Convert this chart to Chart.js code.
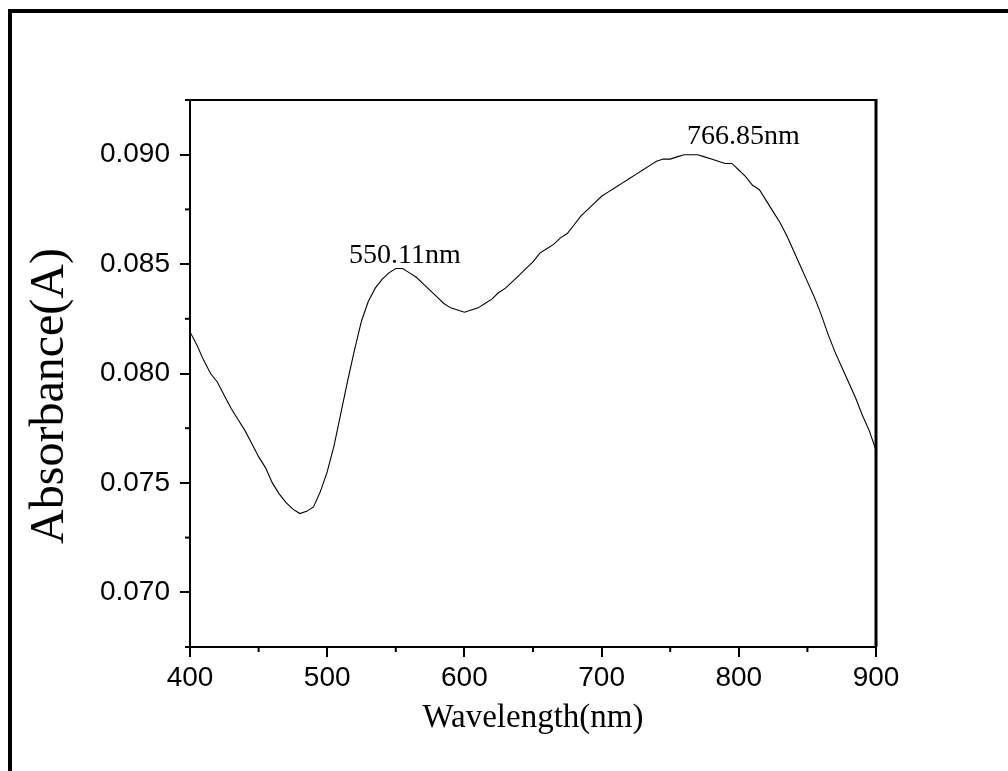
<!DOCTYPE html>
<html>
<head>
<meta charset="utf-8">
<script src="https://cdn.jsdelivr.net/npm/chart.js@4.4.0/dist/chart.umd.min.js"></script>
<style>
  html, body { margin: 0; padding: 0; background: #fff; }
  #wrap { position: relative; width: 1008px; height: 771px; overflow: hidden; }
  #frame {
    position: absolute; left: 8px; top: 9px; width: 1100px; height: 900px;
    border-left: 4px solid #000; border-top: 4px solid #000;
    pointer-events: none;
  }
  canvas { position: absolute; left: 0; top: 0; }
</style>
</head>
<body>
<div id="wrap">
  <canvas id="spectrum" width="1008" height="771"></canvas>
  <div id="frame"></div>
</div>
<script>
/* ---- spectrum data (5 nm steps) ---- */
const wavelength = [];
for (let w = 400; w <= 900; w += 5) wavelength.push(w);

const absorbance = [
  0.0819, 0.0813, 0.0806, 0.0800, 0.0796, 0.0790, 0.0784, 0.0779, 0.0774, 0.0768,
  0.0762, 0.0757, 0.0750, 0.0745, 0.0741, 0.0738, 0.0736, 0.0737, 0.0739, 0.0746,
  0.0755, 0.0767, 0.0782, 0.0797, 0.0811, 0.0824, 0.0833, 0.0839, 0.0843, 0.0846,
  0.0848, 0.0848, 0.0846, 0.0844, 0.0841, 0.0838, 0.0835, 0.0832, 0.0830, 0.0829,
  0.0828, 0.0829, 0.0830, 0.0832, 0.0834, 0.0837, 0.0839, 0.0842, 0.0845, 0.0848,
  0.0851, 0.0855, 0.0857, 0.0859, 0.0862, 0.0864, 0.0868, 0.0872, 0.0875, 0.0878,
  0.0881, 0.0883, 0.0885, 0.0887, 0.0889, 0.0891, 0.0893, 0.0895, 0.0897, 0.0898,
  0.0898, 0.0899, 0.0900, 0.0900, 0.0900, 0.0899, 0.0898, 0.0897, 0.0896, 0.0896,
  0.0893, 0.0890, 0.0886, 0.0884, 0.0879, 0.0874, 0.0869, 0.0863, 0.0856, 0.0849,
  0.0842, 0.0835, 0.0827, 0.0818, 0.0810, 0.0803, 0.0796, 0.0789, 0.0781, 0.0774,
  0.0765
];

// axis ticks
const xTicks = [400, 500, 600, 700, 800, 900];
const xMinorTicks = [450, 550, 650, 750, 850];
const yTicks = [0.070, 0.075, 0.080, 0.085, 0.090];
const yMinorTicks = [0.0675, 0.0725, 0.0775, 0.0825, 0.0875, 0.0925];

// peak labels
const peakNames = ["550.11nm", "766.85nm"];
const peakX = [550.11, 766.85];
const peakY = [0.0848, 0.0900];

const SANS = "'Liberation Sans', Arial, sans-serif";
const SERIF = "'Liberation Serif', 'Times New Roman', serif";

/* ---- extra drawing: frame, minor ticks, y title, peak labels ---- */
const extras = {
  id: "extras",
  afterDraw(chart) {
    const { ctx, chartArea: a } = chart;
    const xs = chart.scales.x, ys = chart.scales.y;
    ctx.save();
    ctx.strokeStyle = "#000";

    // top and right edges of the plot box
    ctx.lineWidth = 2;
    ctx.beginPath();
    ctx.moveTo(a.left, a.top);
    ctx.lineTo(a.right, a.top);
    ctx.stroke();
    ctx.lineWidth = 3;
    ctx.beginPath();
    ctx.moveTo(a.right, a.top - 1);
    ctx.lineTo(a.right, a.bottom);
    ctx.stroke();

    // minor ticks
    ctx.lineWidth = 2;
    xMinorTicks.forEach((v) => {
      const px = xs.getPixelForValue(v);
      ctx.beginPath();
      ctx.moveTo(px, a.bottom);
      ctx.lineTo(px, a.bottom + 5);
      ctx.stroke();
    });
    yMinorTicks.forEach((v) => {
      const py = ys.getPixelForValue(v);
      ctx.beginPath();
      ctx.moveTo(a.left - 5, py);
      ctx.lineTo(a.left, py);
      ctx.stroke();
    });

    // y axis title
    ctx.fillStyle = "#000";
    ctx.font = "48px " + SERIF;
    ctx.textAlign = "center";
    ctx.textBaseline = "middle";
    ctx.translate(50, 396);
    ctx.rotate(-Math.PI / 2);
    ctx.fillText("Absorbance(A)", 0, 0);
    ctx.restore();

    // peak labels
    ctx.save();
    ctx.fillStyle = "#000";
    ctx.font = "28px " + SERIF;
    ctx.textAlign = "center";
    ctx.textBaseline = "alphabetic";
    const offs = [[9, -5], [50, -11]];
    peakNames.forEach((t, i) => {
      const px = xs.getPixelForValue(peakX[i]) + offs[i][0];
      const py = ys.getPixelForValue(peakY[i]) + offs[i][1];
      ctx.fillText(t, px, py);
    });
    ctx.restore();
  },
};

new Chart(document.getElementById("spectrum"), {
  type: "line",
  data: {
    datasets: [
      {
        data: wavelength.map((w, i) => ({ x: w, y: absorbance[i] })),
        borderColor: "#000",
        borderWidth: 1.1,
        pointRadius: 0,
        tension: 0,
        fill: false,
      },
    ],
  },
  options: {
    responsive: false,
    animation: false,
    layout: { padding: { top: 100, right: 132, left: 0, bottom: 0 } },
    plugins: { legend: { display: false }, tooltip: { enabled: false } },
    scales: {
      x: {
        type: "linear",
        min: 400,
        max: 900,
        afterBuildTicks: (s) => { s.ticks = xTicks.map((v) => ({ value: v })); },
        afterFit: (s) => { s.height = 124; },
        ticks: {
          color: "#000",
          font: { family: SANS, size: 28 },
          padding: 4,
          maxRotation: 0,
          callback: (v) => String(v),
        },
        grid: { drawOnChartArea: false, tickLength: 10, lineWidth: 2, color: "#000" },
        border: { display: true, color: "#000", width: 2 },
        title: {
          display: true,
          text: "Wavelength(nm)",
          color: "#000",
          font: { family: SERIF, size: 33 },
          padding: { top: 0, bottom: 33 },
        },
      },
      y: {
        type: "linear",
        min: 0.0675,
        max: 0.0925,
        afterBuildTicks: (s) => { s.ticks = yTicks.map((v) => ({ value: v })); },
        afterFit: (s) => { s.width = 190; },
        ticks: {
          color: "#000",
          font: { family: SANS, size: 28 },
          padding: 10,
          callback: (v) => Number(v).toFixed(3),
        },
        grid: { drawOnChartArea: false, tickLength: 10, lineWidth: 2, color: "#000" },
        border: { display: true, color: "#000", width: 2 },
      },
    },
  },
  plugins: [extras],
});
</script>
</body>
</html>
